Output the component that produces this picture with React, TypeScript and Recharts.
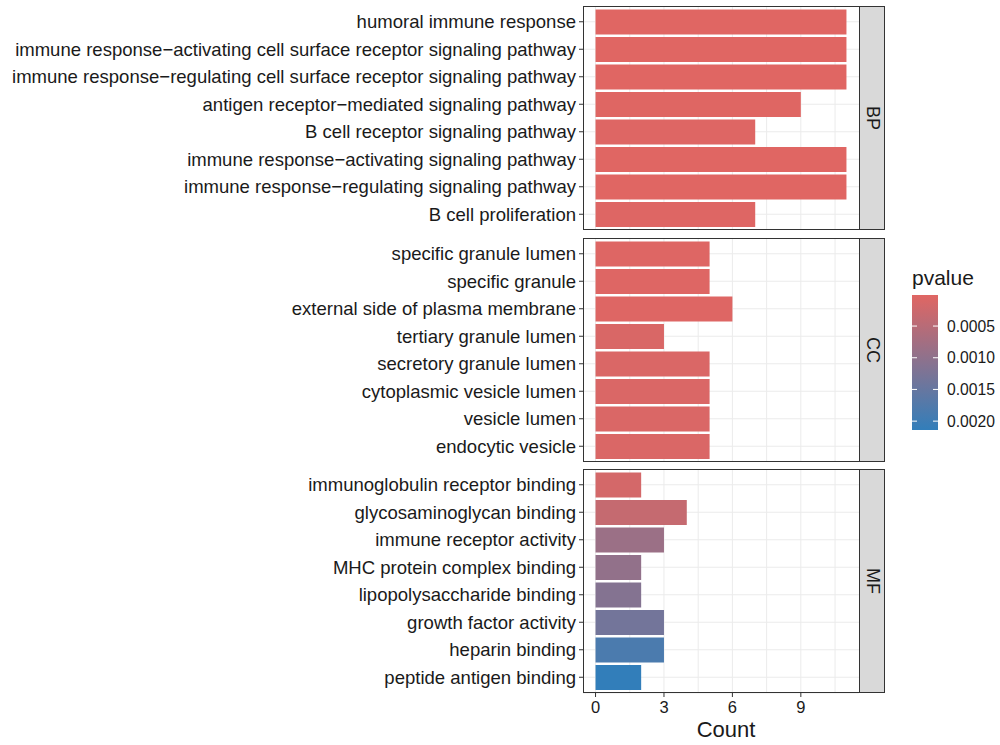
import React from 'react';
import { BarChart, Bar, XAxis, YAxis, CartesianGrid, Cell } from 'recharts';

const bpTerms = [
  'humoral immune response',
  'immune response\u2212activating cell surface receptor signaling pathway',
  'immune response\u2212regulating cell surface receptor signaling pathway',
  'antigen receptor\u2212mediated signaling pathway',
  'B cell receptor signaling pathway',
  'immune response\u2212activating signaling pathway',
  'immune response\u2212regulating signaling pathway',
  'B cell proliferation',
];
const bpCount = [11, 11, 11, 9, 7, 11, 11, 7];
const bpP = [0.00001, 0.00001, 0.00001, 0.00002, 0.00003, 0.00001, 0.00001, 0.00003];

const ccTerms = [
  'specific granule lumen',
  'specific granule',
  'external side of plasma membrane',
  'tertiary granule lumen',
  'secretory granule lumen',
  'cytoplasmic vesicle lumen',
  'vesicle lumen',
  'endocytic vesicle',
];
const ccCount = [5, 5, 6, 3, 5, 5, 5, 5];
const ccP = [0.00004, 0.00004, 0.00003, 0.00009, 0.00008, 0.00008, 0.00008, 0.00008];

const mfTerms = [
  'immunoglobulin receptor binding',
  'glycosaminoglycan binding',
  'immune receptor activity',
  'MHC protein complex binding',
  'lipopolysaccharide binding',
  'growth factor activity',
  'heparin binding',
  'peptide antigen binding',
];
const mfCount = [2, 4, 3, 2, 2, 3, 3, 2];
const mfP = [0.00016, 0.00034, 0.00086, 0.00097, 0.00114, 0.00135, 0.00184, 0.00214];

const xTicks = [0, 3, 6, 9];
const xMinor = [1.5, 4.5, 7.5, 10.5];
const legendTicks = [0.0005, 0.001, 0.0015, 0.002];
const legendLabels = ['0.0005', '0.0010', '0.0015', '0.0020'];

const LOW = [224, 102, 99];
const HIGH = [50, 126, 186];
const pMin = 0.00001;
const pMax = 0.00214;
const X_DOMAIN: [number, number] = [-0.55, 11.55];

const FONT = '"Liberation Sans", Arial, Helvetica, sans-serif';
const TEXT = '#1a1a1a';

const pColor = (p: number) => {
  const t = Math.max(0, Math.min(1, (p - pMin) / (pMax - pMin)));
  const c = LOW.map((l, i) => Math.round(l + (HIGH[i] - l) * t));
  return `rgb(${c[0]},${c[1]},${c[2]})`;
};

const PANEL_H = 224;
const PLOT_L = 583;
const PLOT_R = 859;
const STRIP_W = 26;

interface PanelProps {
  terms: string[];
  counts: number[];
  pvals: number[];
  label: string;
  top: number;
  showAxis?: boolean;
}

const Panel = ({ terms, counts, pvals, label, top, showAxis }: PanelProps) => {
  const data = terms.map((term, i) => ({ term, count: counts[i], p: pvals[i] }));
  const axisH = showAxis ? 24 : 0;

  const vGen = ({ offset }: any) =>
    [...xTicks, ...xMinor].map(
      (v) => offset.left + ((v - X_DOMAIN[0]) / (X_DOMAIN[1] - X_DOMAIN[0])) * offset.width
    );

  return (
    <>
      <div style={{ position: 'absolute', left: 0, top }}>
        <BarChart
          width={PLOT_R}
          height={PANEL_H + axisH}
          data={data}
          layout="vertical"
          margin={{ top: 0, right: 0, bottom: 0, left: 0 }}
          barCategoryGap="5%"
        >
          <CartesianGrid stroke="#EBEBEB" strokeWidth={1} verticalCoordinatesGenerator={vGen} />
          <XAxis
            type="number"
            dataKey="count"
            domain={X_DOMAIN}
            ticks={xTicks}
            allowDataOverflow
            hide={!showAxis}
            height={axisH}
            axisLine={false}
            tickSize={4}
            tickMargin={4}
            tickLine={{ stroke: '#333333' }}
            tick={{ fontSize: 16.5, fill: TEXT, fontFamily: FONT }}
          />
          <YAxis
            type="category"
            dataKey="term"
            width={PLOT_L}
            interval={0}
            padding={{ top: 2, bottom: 2 }}
            axisLine={false}
            tickSize={4}
            tickMargin={3}
            tickLine={{ stroke: '#333333' }}
            tick={{ fontSize: 18.55, fill: TEXT, fontFamily: FONT }}
          />
          <Bar dataKey="count" isAnimationActive={false}>
            {data.map((d, i) => (
              <Cell key={`c-${i}`} fill={pColor(d.p)} />
            ))}
          </Bar>
        </BarChart>
      </div>
      <div
        style={{
          position: 'absolute',
          left: PLOT_L,
          top,
          width: PLOT_R - PLOT_L + 1,
          height: PANEL_H,
          border: '1px solid #333333',
          boxSizing: 'border-box',
          pointerEvents: 'none',
        }}
      />
      <div
        style={{
          position: 'absolute',
          left: PLOT_R,
          top,
          width: STRIP_W,
          height: PANEL_H,
          background: '#D9D9D9',
          border: '1px solid #333333',
          boxSizing: 'border-box',
          display: 'flex',
          alignItems: 'center',
          justifyContent: 'center',
          writingMode: 'vertical-rl',
          fontFamily: FONT,
          fontSize: 18,
          color: TEXT,
        }}
      >
        {label}
      </div>
    </>
  );
};

const Legend = () => {
  const barTop = 295;
  const barH = 135;
  const barX = 912;
  const barW = 26;
  const yOf = (p: number) => barTop + ((p - pMin) / (pMax - pMin)) * barH;
  return (
    <svg
      width={1000}
      height={745}
      style={{ position: 'absolute', left: 0, top: 0, pointerEvents: 'none' }}
    >
      <defs>
        <linearGradient id="pgrad" x1="0" y1="0" x2="0" y2="1">
          <stop offset="0%" stopColor={pColor(pMin)} />
          <stop offset="50%" stopColor={pColor((pMin + pMax) / 2)} />
          <stop offset="100%" stopColor={pColor(pMax)} />
        </linearGradient>
      </defs>
      <text x={barX} y={285} fontSize={21} fontFamily={FONT} fill={TEXT}>
        pvalue
      </text>
      <rect x={barX} y={barTop} width={barW} height={barH} fill="url(#pgrad)" />
      {legendTicks.map((t, i) => (
        <g key={i}>
          <line x1={barX} x2={barX + 5} y1={yOf(t)} y2={yOf(t)} stroke="#fff" strokeWidth={1} />
          <line x1={barX + barW - 5} x2={barX + barW} y1={yOf(t)} y2={yOf(t)} stroke="#fff" strokeWidth={1} />
          <text x={947} y={yOf(t) + 5.5} fontSize={15.7} fontFamily={FONT} fill={TEXT}>
            {legendLabels[i]}
          </text>
        </g>
      ))}
    </svg>
  );
};

export default function App() {
  return (
    <div
      style={{
        position: 'absolute',
        left: 0,
        top: 0,
        width: 1000,
        height: 745,
        background: '#fff',
        fontFamily: FONT,
        overflow: 'hidden',
      }}
    >
      <Panel terms={bpTerms} counts={bpCount} pvals={bpP} label="BP" top={6} />
      <Panel terms={ccTerms} counts={ccCount} pvals={ccP} label="CC" top={237.5} />
      <Panel terms={mfTerms} counts={mfCount} pvals={mfP} label="MF" top={469} showAxis />
      <div
        style={{
          position: 'absolute',
          left: PLOT_L,
          width: PLOT_R - PLOT_L + 10,
          top: 720,
          textAlign: 'center',
          fontSize: 22,
          lineHeight: '20px',
          color: TEXT,
          fontFamily: FONT,
        }}
      >
        Count
      </div>
      <Legend />
    </div>
  );
}
